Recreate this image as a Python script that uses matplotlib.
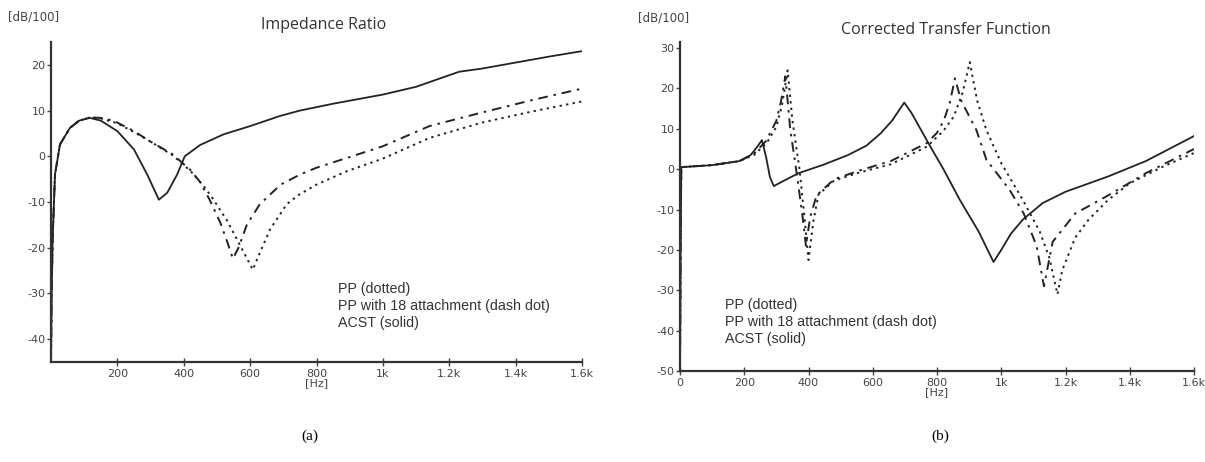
import matplotlib.pyplot as plt

plt.rcParams['axes.unicode_minus'] = False

# ---- (a) Impedance Ratio ----
f_solid_a = [0, 2, 5, 12, 27, 57, 85, 117, 150, 200, 250, 290, 325, 350, 380, 403, 450, 520, 600,
             689, 750, 850, 1000, 1100, 1230, 1300, 1400, 1500, 1600]
v_solid_a = [-45, -30, -18, -4, 2.6, 6.2, 7.8, 8.4, 7.8, 5.5, 1.5, -4, -9.5, -8, -4, 0, 2.5, 4.8, 6.6,
             8.8, 10, 11.5, 13.5, 15.2, 18.5, 19.2, 20.5, 21.8, 23]

f_dashdot_a = [0, 2, 5, 12, 27, 57, 85, 117, 150, 188, 250, 298, 367, 420, 448, 478, 510, 530, 548,
               565, 590, 629, 692, 750, 800, 890, 1000, 1140, 1300, 1450, 1600]
v_dashdot_a = [-45, -30, -18, -4, 2.6, 6.2, 7.8, 8.5, 8.4, 7.8, 5.5, 3.3, 0.4, -3, -5.5, -9.5, -14.5, -18.5, -22.4,
               -20, -15, -10.5, -6.2, -4, -2.5, -0.4, 2.2, 6.6, 9.6, 12.3, 14.8]

f_dotted_a = [0, 2, 5, 12, 27, 57, 85, 117, 150, 200, 250, 300, 367, 420, 460, 487, 530, 570, 608,
              630, 660, 710, 745, 800, 890, 1000, 1140, 1300, 1450, 1600]
v_dotted_a = [-45, -30, -18, -4, 2.6, 6.2, 7.8, 8.5, 8.3, 7.2, 5.3, 3.2, 0.2, -3.2, -6.5, -9.2, -14, -19.5, -24.8,
              -21, -16, -10.5, -8.5, -6.2, -3.3, -0.5, 4, 7.4, 9.8, 12]

# ---- (b) Corrected Transfer Function ----
f_solid_b = [0, 2, 4, 100, 185, 220, 240, 255, 268, 280, 292, 320, 369, 450, 523, 580, 625, 660, 698,
             720, 780, 820, 871, 930, 976, 1000, 1030, 1067, 1129, 1200, 1333, 1450, 1600]
v_solid_b = [-50, -20, 0.5, 1.0, 2.0, 3.5, 5.5, 7.2, 3, -2, -4.2, -3, -1.0, 1.2, 3.5, 5.8, 8.9, 12, 16.5,
             14, 5.5, 0, -7.6, -15.5, -23, -20, -16, -12.5, -8.4, -5.6, -1.8, 2, 8.2]

f_dotted_b = [0, 2, 4, 100, 185, 230, 270, 300, 318, 335, 350, 372, 390, 400, 415, 431, 480, 560, 656,
              769, 820, 852, 880, 902, 925, 954, 1000, 1067, 1120, 1150, 1175, 1190, 1230, 1272, 1333,
              1400, 1500, 1600]
v_dotted_b = [-50, -20, 0.5, 1.0, 2.0, 3.5, 6.5, 10.5, 16, 24.5, 12, 0, -14, -22.5, -13, -6.3, -2.8, -0.8, 1.2,
              5.6, 9.5, 13, 19, 26.5, 17, 9.6, 1.5, -7.6, -15.5, -22, -31, -25, -17, -12.5, -7.6,
              -3.5, 0.5, 4]

f_dashdot_b = [0, 2, 4, 100, 185, 230, 268, 300, 315, 328, 343, 365, 382, 392, 405, 425, 480, 560, 656,
               769, 800, 821, 840, 856, 875, 923, 954, 1025, 1070, 1110, 1133, 1160, 1230, 1333, 1450, 1600]
v_dashdot_b = [-50, -20, 0.5, 1.0, 2.0, 3.8, 7, 12, 17, 23, 10, -2, -12, -19, -12, -6.5, -2.5, -0.3, 2,
               6.5, 9, 12, 16.5, 22.5, 17, 9.6, 2.3, -5, -11, -19, -29, -18, -11, -6.5, -1, 5]

xticks_a = [200, 400, 600, 800, 1000, 1200, 1400, 1600]
xlabels_a = ['200', '400', '600', '800\n[Hz]', '1k', '1.2k', '1.4k', '1.6k']
xticks_b = [0] + xticks_a
xlabels_b = ['0'] + xlabels_a
yticks_a = [20, 10, 0, -10, -20, -30, -40]
yticks_b = [30, 20, 10, 0, -10, -20, -30, -40, -50]

legend_lines = 'PP (dotted)\nPP with 18 attachment (dash dot)\nACST (solid)'

fig = plt.figure(figsize=(12.05, 4.62), dpi=100)
ax1 = fig.add_axes([51 / 1205, 1 - 362 / 462, 531 / 1205, 320 / 462])
ax2 = fig.add_axes([680 / 1205, 1 - 371 / 462, 514 / 1205, 329 / 462])

lc = '#222222'


def style(ax, ylim, yticks, xticks, xlabels):
    ax.set_xlim(0, 1600)
    ax.set_ylim(*ylim)
    for s in ['top', 'right']:
        ax.spines[s].set_visible(False)
    for s in ['left', 'bottom']:
        ax.spines[s].set_linewidth(1.6)
        ax.spines[s].set_color('#333333')
    ax.set_yticks(yticks)
    ax.set_xticks(xticks)
    ax.set_xticklabels(xlabels, linespacing=0.85)
    ax.tick_params(axis='y', direction='out', length=3, width=1, labelsize=8, colors='#444444', pad=1)
    ax.tick_params(axis='x', direction='inout', length=6, width=1, labelsize=8, colors='#444444', pad=2)


ax1.plot(f_dotted_a, v_dotted_a, color=lc, lw=1.4, dashes=(1.2, 2.2))
ax1.plot(f_dashdot_a, v_dashdot_a, color=lc, lw=1.4, dashes=(5, 3, 1.3, 3))
ax1.plot(f_solid_a, v_solid_a, color=lc, lw=1.3)
style(ax1, (-45, 25), yticks_a, xticks_a, xlabels_a)
ax1.text(0.54, 0.25, legend_lines, transform=ax1.transAxes, fontsize=10.3,
         family='Liberation Sans', color='#333333', va='top', linespacing=1.27)

ax2.plot(f_dotted_b, v_dotted_b, color=lc, lw=1.4, dashes=(1.2, 2.2))
ax2.plot(f_dashdot_b, v_dashdot_b, color=lc, lw=1.4, dashes=(5, 3, 1.3, 3))
ax2.plot(f_solid_b, v_solid_b, color=lc, lw=1.3)
style(ax2, (-50, 31.5), yticks_b, xticks_b, xlabels_b)
ax2.text(0.087, 0.222, legend_lines, transform=ax2.transAxes, fontsize=10.3,
         family='Liberation Sans', color='#333333', va='top', linespacing=1.27)

fig.text(324 / 1205, 1 - 25 / 462, 'Impedance Ratio', ha='center', va='center',
         fontsize=11.5, family='Open Sans', color='#333333')
fig.text(946 / 1205, 1 - 30 / 462, 'Corrected Transfer Function', ha='center', va='center',
         fontsize=11.5, family='Open Sans', color='#333333')
fig.text(8 / 1205, 1 - 17 / 462, '[dB/100]', ha='left', va='center', fontsize=8.5, color='#444444')
fig.text(638 / 1205, 1 - 18 / 462, '[dB/100]', ha='left', va='center', fontsize=8.5, color='#444444')
fig.text(310 / 1205, 1 - 436 / 462, '(a)', ha='center', va='center', fontsize=11, family='Liberation Serif')
fig.text(940 / 1205, 1 - 436 / 462, '(b)', ha='center', va='center', fontsize=11, family='Liberation Serif')

fig.savefig('out.png', dpi=100)
